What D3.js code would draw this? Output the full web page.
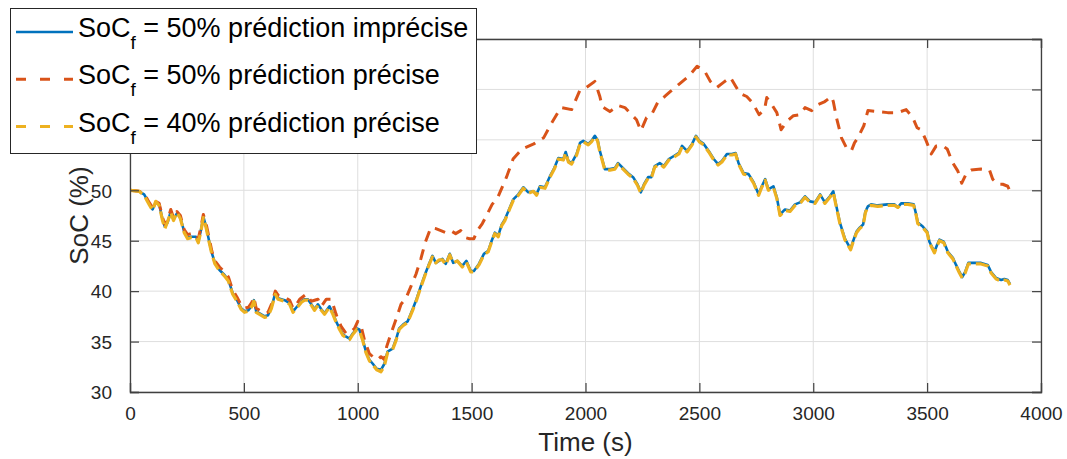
<!DOCTYPE html>
<html>
<head>
<meta charset="utf-8">
<script src="https://cdn.jsdelivr.net/npm/d3@7"></script>
<style>
  html, body { margin: 0; padding: 0; background: #fff; }
  svg { display: block; font-family: "Liberation Sans", Arial, Helvetica, sans-serif; }
</style>
</head>
<body>
<svg id="chart" width="1067" height="459"></svg>
<script>
// ---- Data ----
const timeA = [0,40,62,84,99,113,128,143,153,165,179,191,206,221,238,253,268,290,300,312,322,334,348,359,373,393,415,432,451,470,488,503,520,535,544,554,569,591,606,621,638,650,679,701,716,731,753,767,781,796,810,825,840,854,876,891,905,920,935,949,964,978,996,1007,1022,1036,1051,1066,1083,1102,1117,1131,1153,1168,1182,1200,1219,1241,1258,1277,1296,1313,1328,1343,1357,1372,1386,1404,1419,1437,1459,1477,1496,1510,1532,1554,1573,1588,1602,1617,1632,1646,1668,1683,1705,1727,1749,1771,1785,1800,1822,1844,1863,1881,1903,1913,1925,1939,1961,1976,1990,2012,2026,2041,2053,2063,2073,2085,2107,2129,2143,2165,2187,2209,2228,2243,2257,2275,2289,2304,2326,2344,2366,2388,2410,2424,2446,2468,2485,2500,2519,2541,2563,2582,2599,2621,2643,2659,2672,2694,2716,2738,2760,2774,2789,2803,2825,2840,2854,2876,2898,2920,2942,2964,2986,3008,3030,3051,3073,3088,3098,3117,3139,3164,3174,3190,3204,3219,3229,3240,3254,3283,3327,3357,3371,3386,3415,3441,3452,3459,3481,3500,3510,3532,3544,3554,3573,3591,3613,3627,3642,3654,3667,3681,3708,3737,3766,3781,3803,3825,3839,3854,3864];

const socImprecise50 = [50.0,49.9,49.6,48.7,48.1,48.8,48.6,47.1,46.4,46.8,47.9,47.1,47.7,47.3,45.9,45.3,45.4,45.4,44.9,46.1,47.4,46.4,44.9,43.8,42.8,42.1,41.6,41.1,39.8,39.1,38.3,38.0,38.1,38.6,39.1,38.0,37.8,37.5,37.6,38.4,39.8,39.3,39.1,38.8,38.0,38.4,39.0,39.2,39.2,38.7,38.2,38.7,38.2,37.8,38.5,37.8,37.0,36.3,35.7,35.5,35.3,35.8,36.3,36.2,35.2,34.0,33.2,32.8,32.3,32.2,32.8,34.0,34.3,35.2,36.3,36.7,37.0,38.2,39.2,40.5,41.7,42.7,43.5,42.8,43.0,43.2,42.7,43.7,42.8,43.0,42.5,43.0,42.0,42.0,42.7,43.7,44.0,45.0,45.8,45.5,46.6,47.1,48.3,49.1,49.6,50.3,49.8,49.9,49.6,50.4,50.3,51.4,52.2,53.2,53.1,53.8,52.9,52.7,53.6,54.7,54.9,54.6,54.9,55.4,55.0,53.9,53.1,52.1,52.1,52.2,52.7,52.2,51.7,51.3,50.6,49.8,50.6,51.3,51.3,52.4,52.7,52.4,53.1,53.4,53.7,54.4,53.9,54.6,55.4,54.9,54.6,53.9,53.1,52.6,52.9,53.6,53.6,53.7,52.7,51.7,51.6,50.8,49.6,50.4,51.1,50.1,50.4,49.3,47.6,48.1,48.0,48.6,48.8,49.4,48.9,48.8,49.6,48.8,49.4,49.9,48.8,46.8,45.2,44.2,44.9,45.9,46.3,46.6,47.9,48.4,48.6,48.5,48.6,48.6,48.3,48.7,48.7,48.6,47.6,46.8,46.4,45.9,44.9,43.9,44.6,45.1,44.9,43.9,43.3,42.6,41.9,41.4,41.9,42.8,42.8,42.8,42.6,41.9,41.3,41.1,41.2,41.1,40.7];

const socPrecise40 = [50.0,49.9,49.5,48.6,48.0,48.9,48.5,47.0,46.2,46.9,47.8,47.0,47.8,47.2,45.8,45.2,45.3,45.3,44.8,46.0,47.3,46.3,44.8,43.7,42.7,42.0,41.5,41.0,39.7,39.0,38.2,37.9,38.0,38.5,39.0,37.9,37.7,37.4,37.5,38.3,39.7,39.2,39.0,38.7,37.9,38.3,38.9,39.1,39.1,38.6,38.1,38.6,38.1,37.7,38.4,37.7,36.9,36.2,35.6,35.4,35.2,35.7,36.2,36.1,35.1,33.9,33.1,32.7,32.2,32.0,32.6,33.9,34.2,35.1,36.2,36.6,36.9,38.1,39.1,40.4,41.6,42.6,43.4,42.8,43.1,43.1,42.6,43.6,42.8,43.0,42.4,42.9,41.9,41.9,42.6,43.6,43.9,44.9,45.7,45.4,46.5,47.0,48.2,49.0,49.5,50.2,49.7,49.9,49.5,50.3,50.2,51.3,52.1,53.1,53.0,53.7,52.8,52.6,53.5,54.6,54.8,54.5,54.8,55.3,54.9,53.8,53.0,52.0,52.0,52.1,52.6,52.1,51.6,51.2,50.5,49.7,50.5,51.2,51.2,52.3,52.6,52.3,53.0,53.3,53.6,54.3,53.8,54.5,55.3,54.8,54.5,53.8,53.0,52.5,52.8,53.5,53.5,53.6,52.6,51.6,51.5,50.7,49.5,50.3,51.0,50.0,50.3,49.2,47.5,48.0,47.9,48.5,48.7,49.3,48.8,48.7,49.5,48.7,49.3,49.8,48.7,46.7,45.1,44.1,44.8,45.8,46.2,46.5,47.8,48.3,48.5,48.4,48.5,48.5,48.3,48.6,48.6,48.5,47.5,46.7,46.3,45.8,44.8,43.8,44.5,45.0,44.8,43.8,43.2,42.5,41.8,41.3,41.8,42.7,42.7,42.7,42.5,41.8,41.2,41.0,41.1,41.0,40.6];

const timeB = [0,40,62,84,99,113,128,143,153,165,179,191,206,221,238,253,268,290,300,312,322,334,348,359,373,393,415,432,451,470,488,503,520,535,544,554,569,591,606,621,638,650,679,701,716,731,745,774,796,825,840,862,884,905,927,949,971,986,1000,1015,1029,1051,1066,1088,1102,1117,1127,1146,1168,1190,1212,1234,1256,1277,1296,1321,1343,1365,1386,1408,1430,1452,1474,1491,1510,1525,1547,1561,1590,1615,1653,1682,1722,1773,1816,1852,1892,1939,1975,2004,2041,2063,2073,2107,2143,2173,2202,2224,2243,2268,2290,2319,2348,2373,2410,2453,2490,2504,2526,2548,2577,2606,2636,2660,2679,2708,2733,2762,2786,2796,2818,2840,2859,2883,2913,2942,2964,2993,3022,3051,3080,3088,3102,3124,3146,3167,3181,3196,3222,3240,3283,3327,3371,3408,3437,3456,3474,3496,3518,3540,3569,3588,3613,3635,3652,3671,3693,3737,3774,3788,3810,3832,3854,3864];

const socPrecise50 = [50.0,49.9,49.7,48.8,48.3,48.9,48.7,47.3,46.6,47.0,48.1,47.3,47.9,47.5,46.1,45.6,45.7,45.7,45.2,46.4,47.6,46.7,45.2,44.0,43.0,42.4,41.9,41.4,40.1,39.4,38.6,38.3,38.4,38.9,39.4,38.3,38.1,37.8,37.9,38.7,40.0,39.6,39.4,39.1,38.3,38.7,39.2,39.7,39.0,39.2,38.5,39.2,39.2,37.7,36.5,35.8,36.0,36.3,37.0,36.5,35.2,33.8,33.5,33.2,33.5,33.2,34.5,35.8,37.2,38.7,39.3,40.5,41.7,43.2,44.8,46.3,46.2,46.0,45.8,46.0,45.7,46.0,45.3,45.2,45.2,46.0,46.7,47.3,48.6,49.3,51.3,53.1,54.1,54.6,55.2,56.7,58.2,58.0,59.9,60.2,60.8,59.3,58.3,57.8,58.4,58.2,57.5,57.0,55.9,57.2,57.5,58.8,59.3,59.8,60.5,61.3,62.3,62.1,61.7,60.8,60.2,60.7,61.2,60.3,59.6,59.3,58.7,57.5,58.0,59.2,58.5,57.7,56.0,56.8,57.4,57.5,58.2,57.9,58.5,58.8,59.3,58.8,57.2,55.2,54.2,53.9,54.7,55.2,56.4,57.9,57.8,57.7,57.7,58.0,57.2,56.2,56.0,54.9,53.6,54.4,54.4,54.1,52.7,51.9,50.7,51.6,52.0,52.1,52.0,51.1,50.6,50.6,50.4,49.9];

const xTicks = [0,500,1000,1500,2000,2500,3000,3500,4000];
const yTicks = [30,35,40,45,50,55,60,65];
const yTickLabels = ["30","35","40","45","50","","",""]; // 55–65 hidden under the legend
const seriesNames = ["50% prédiction imprécise","50% prédiction précise","40% prédiction précise"];
const seriesColors = ["#0072BD","#D95319","#EDB120"];

// ---- Layout ----
const m = {left: 130, right: 1041, top: 39, bottom: 392};
const svg = d3.select("#chart");

const x = d3.scaleLinear().domain([0, 4000]).range([m.left, m.right]);
const y = d3.scaleLinear().domain([30, 65]).range([m.bottom, m.top]);

// grid
const grid = svg.append("g");
grid.selectAll(".gx").data(xTicks).join("line")
  .attr("x1", d => x(d)).attr("x2", d => x(d))
  .attr("y1", m.top).attr("y2", m.bottom)
  .attr("stroke", "#dedede").attr("stroke-width", 1);
grid.selectAll(".gy").data(yTicks).join("line")
  .attr("x1", m.left).attr("x2", m.right)
  .attr("y1", d => y(d)).attr("y2", d => y(d))
  .attr("stroke", "#dedede").attr("stroke-width", 1);

// lines
const seriesData = [
  {t: timeA, v: socImprecise50, color: seriesColors[0], dash: null, w: 2.6},
  {t: timeB, v: socPrecise50, color: seriesColors[1], dash: "11,8", w: 3},
  {t: timeA, v: socPrecise40, color: seriesColors[2], dash: "13,5", w: 3.2}
];
const line = d3.line().x(d => x(d[0])).y(d => y(d[1])).curve(d3.curveLinear);
svg.append("clipPath").attr("id", "clip").append("rect")
  .attr("x", m.left).attr("y", m.top).attr("width", m.right - m.left).attr("height", m.bottom - m.top);
const lines = svg.append("g").attr("clip-path", "url(#clip)");
seriesData.forEach(s => {
  lines.append("path")
    .datum(s.t.map((t, i) => [t, s.v[i]]))
    .attr("d", line)
    .attr("fill", "none")
    .attr("stroke", s.color)
    .attr("stroke-width", s.w)
    .attr("stroke-dasharray", s.dash)
    .attr("stroke-linejoin", "round");
});

// axes
const axisColor = "#404040";
const tickLen = 9;
const gxB = svg.append("g").attr("transform", `translate(0,${m.bottom})`)
  .call(d3.axisBottom(x).tickValues(xTicks).tickSize(-tickLen).tickPadding(15).tickFormat(d3.format("d")));
const gxT = svg.append("g").attr("transform", `translate(0,${m.top})`)
  .call(d3.axisTop(x).tickValues(xTicks).tickSize(-tickLen).tickFormat(""));
const gyL = svg.append("g").attr("transform", `translate(${m.left},0)`)
  .call(d3.axisLeft(y).tickValues(yTicks).tickSize(-tickLen).tickPadding(18)
    .tickFormat((d, i) => yTickLabels[i]));
const gyR = svg.append("g").attr("transform", `translate(${m.right},0)`)
  .call(d3.axisRight(y).tickValues(yTicks).tickSize(-tickLen).tickFormat(""));
[gxB, gxT, gyL, gyR].forEach(g => {
  g.select(".domain").attr("stroke", axisColor).attr("stroke-width", 1.3);
  g.selectAll(".tick line").attr("stroke", axisColor).attr("stroke-width", 1.2);
  g.selectAll(".tick text").attr("fill", "#262626").style("font-size", "19px")
    .style("font-family", '"Liberation Sans", Arial, sans-serif');
});
gxB.selectAll(".tick text").attr("dy", "0.71em");
gyL.selectAll(".tick text").attr("dy", "0.36em");

// axis labels
svg.append("text").attr("x", (m.left + m.right) / 2).attr("y", 451)
  .attr("text-anchor", "middle").attr("fill", "#262626").style("font-size", "26px")
  .text("Time (s)");
svg.append("text").attr("transform", `translate(88,${(m.top + m.bottom) / 2}) rotate(-90)`)
  .attr("text-anchor", "middle").attr("fill", "#262626").style("font-size", "26px")
  .text("SoC (%)");

// legend
const leg = svg.append("g");
leg.append("rect").attr("x", 10.5).attr("y", 8.5).attr("width", 466).attr("height", 145)
  .attr("fill", "#fff").attr("stroke", "#262626").attr("stroke-width", 1);
const legRows = [
  {name: seriesNames[0], color: seriesColors[0], dash: null, w: 2.6},
  {name: seriesNames[1], color: seriesColors[1], dash: "10,14", w: 3},
  {name: seriesNames[2], color: seriesColors[2], dash: "10,14", w: 3}
];
legRows.forEach((r, i) => {
  const cy = 32 + i * 47.3;
  leg.append("line").attr("x1", 16).attr("x2", 73).attr("y1", cy).attr("y2", cy)
    .attr("stroke", r.color).attr("stroke-width", r.w).attr("stroke-dasharray", r.dash);
  const t = leg.append("text").attr("x", 78).attr("y", cy + 5)
    .attr("fill", "#000").style("font-size", "27px");
  t.append("tspan").text("SoC");
  t.append("tspan").attr("dy", 12).style("font-size", "19px").text("f");
  t.append("tspan").attr("dy", -12).text(" = " + r.name);
});
</script>
</body>
</html>
